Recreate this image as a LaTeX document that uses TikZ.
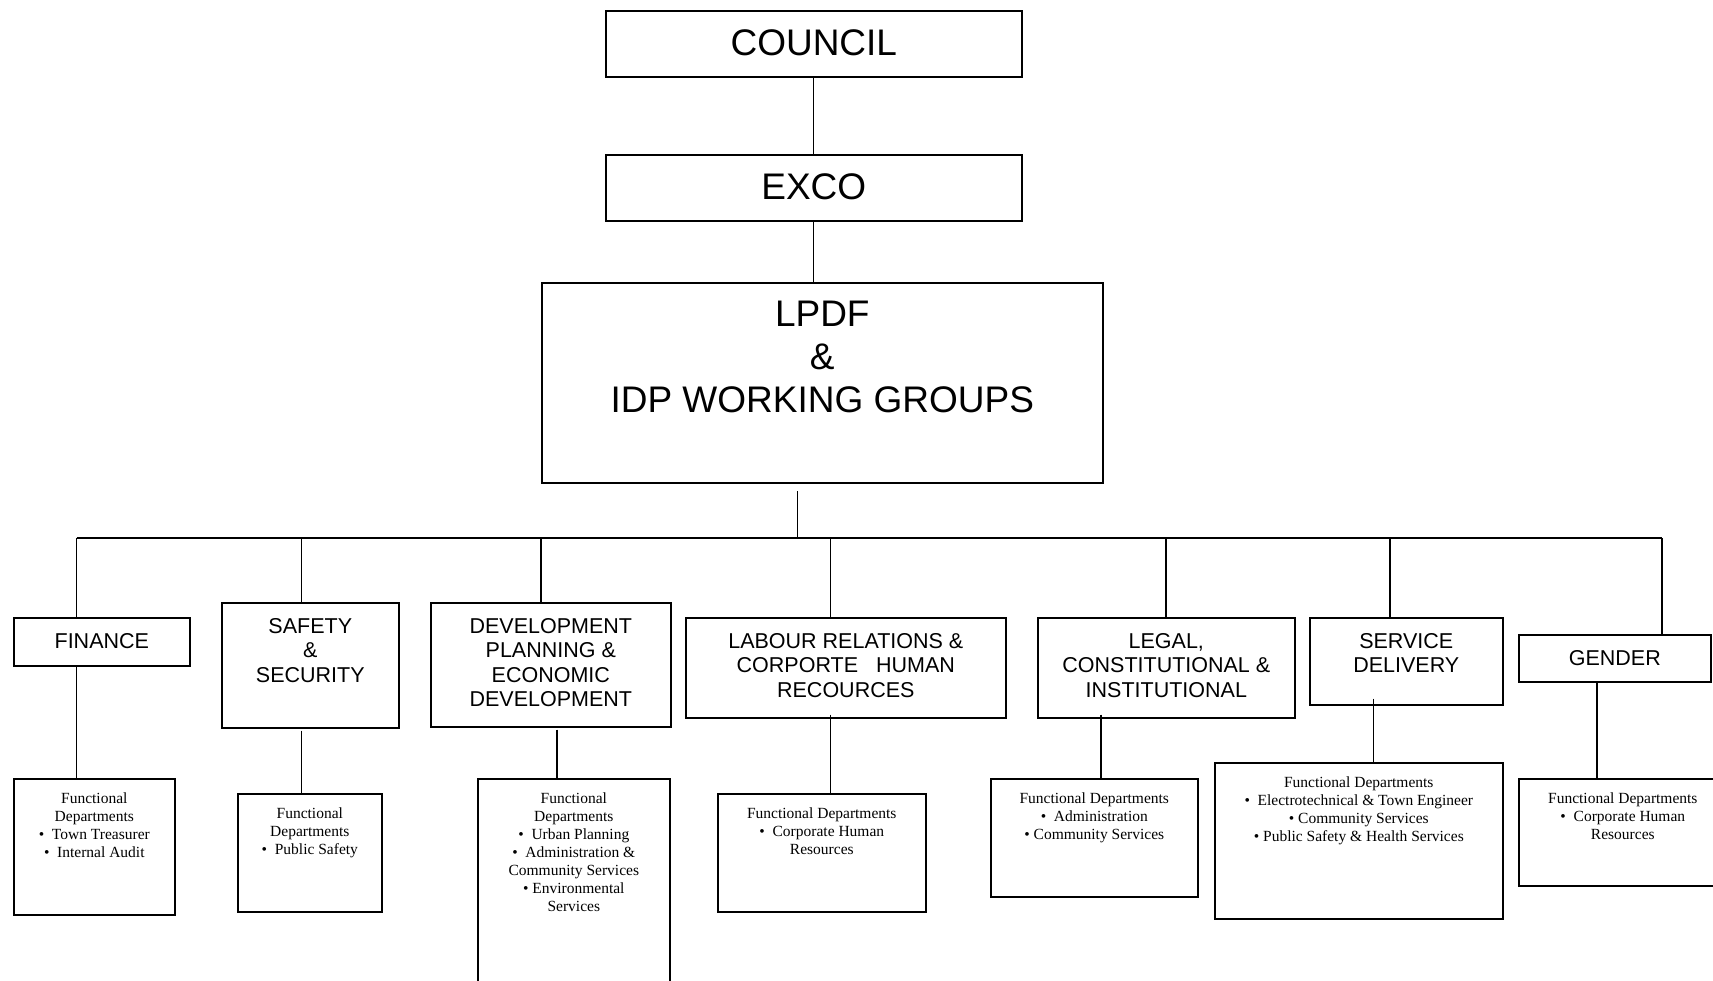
\documentclass[tikz,border=0pt]{standalone}
\usepackage{fontspec}
\setmainfont{Liberation Serif}
\setsansfont{Liberation Sans}

\tikzset{
 box/.style={draw, line width=1.6pt, inner sep=0pt, anchor=north west},
 bigtxt/.style={anchor=north, yshift=-19pt, inner sep=0pt, align=center, font=\sffamily\fontsize{37}{43}\selectfont},
 unittxt/.style={anchor=north, yshift=-16pt, inner sep=0pt, align=center, font=\sffamily\fontsize{21.5}{24.5}\selectfont},
 depttxt/.style={anchor=north, yshift=-15pt, inner sep=0pt, align=center, font=\rmfamily\fontsize{15.5}{18}\selectfont},
 link/.style={line width=1.3pt},
}

\begin{document}
\begin{tikzpicture}[x=1pt,y=-1pt]
 \useasboundingbox (0,0) rectangle (1713,980);
 % top of the chart
 \node[box, minimum width=416pt, minimum height=66pt, label={[bigtxt]north:COUNCIL}] (council) at (605,10) {};
 \node[box, minimum width=416pt, minimum height=66pt, label={[bigtxt]north:EXCO}] (exco) at (605,154) {};
 \node[box, minimum width=561pt, minimum height=200pt, label={[bigtxt]north:{LPDF\\\&\\IDP WORKING GROUPS}}] (lpdf) at (541,282) {};
 % working groups
 \node[box, minimum width=176pt, minimum height=48pt, label={[unittxt]north:FINANCE}] (fin) at (13,617) {};
 \node[box, minimum width=177pt, minimum height=125pt, label={[unittxt]north:{SAFETY\\\&\\SECURITY}}] (saf) at (221,602) {};
 \node[box, minimum width=240pt, minimum height=124pt, label={[unittxt]north:{DEVELOPMENT\\PLANNING \&\\ECONOMIC\\DEVELOPMENT}}] (dped) at (430,602) {};
 \node[box, minimum width=320pt, minimum height=100pt, label={[unittxt]north:{LABOUR RELATIONS \&\\CORPORTE \ \ HUMAN\\RECOURCES}}] (lab) at (685,617) {};
 \node[box, minimum width=257pt, minimum height=100pt, label={[unittxt]north:{LEGAL,\\CONSTITUTIONAL \&\\INSTITUTIONAL}}] (leg) at (1037,617) {};
 \node[box, minimum width=193pt, minimum height=87pt, label={[unittxt]north:{SERVICE\\DELIVERY}}] (svc) at (1309,617) {};
 \node[box, minimum width=192pt, minimum height=47pt, label={[unittxt]north:GENDER}] (gen) at (1518,634) {};
 % functional departments
 \node[box, minimum width=161pt, minimum height=136pt, label={[depttxt]north:{Functional\\Departments\\\textbullet\ \ Town Treasurer\\\textbullet\ \ Internal Audit}}] (ffin) at (13,778) {};
 \node[box, minimum width=144pt, minimum height=118pt, label={[depttxt]north:{Functional\\Departments\\\textbullet\ \ Public Safety}}] (fsaf) at (237,793) {};
 \node[box, minimum width=192pt, minimum height=230pt, label={[depttxt]north:{Functional\\Departments\\\textbullet\ \ Urban Planning\\\textbullet\ \ Administration \&\\Community Services\\\textbullet\ Environmental\\Services}}] (fdped) at (477,778) {};
 \node[box, minimum width=208pt, minimum height=118pt, label={[depttxt]north:{Functional Departments\\\textbullet\ \ Corporate Human\\Resources}}] (flab) at (717,793) {};
 \node[box, minimum width=207pt, minimum height=118pt, label={[depttxt]north:{Functional Departments\\\textbullet\ \ Administration\\\textbullet\ Community Services}}] (fleg) at (990,778) {};
 \node[box, minimum width=288pt, minimum height=156pt, label={[depttxt]north:{Functional Departments\\\textbullet\ \ Electrotechnical \& Town Engineer\\\textbullet\ Community Services\\\textbullet\ Public Safety \& Health Services}}] (fsvc) at (1214,762) {};
 \node[box, minimum width=208pt, minimum height=107pt, label={[depttxt]north:{Functional Departments\\\textbullet\ \ Corporate Human\\Resources}}] (fgen) at (1518,778) {};

 % connectors
 \draw[link] (council) -- (exco);
 \draw[link] (exco.south) -- (exco.south |- lpdf.north);
 \coordinate (hub) at (797.5,538);
 \draw[line width=1pt, shorten >=7pt] (hub) -- (hub |- lpdf.south);
 \coordinate (d1) at (76.5,538);
 \coordinate (d2) at (301.5,538);
 \coordinate (d3) at (541,538);
 \coordinate (d4) at (830.5,538);
 \coordinate (d5) at (1166,538);
 \coordinate (d6) at (1390,538);
 \coordinate (d7) at (1662,538);
 \draw[line width=1.7pt] (d1) -- (d7);
 \foreach \d/\n in {d1/fin, d2/saf, d3/dped, d4/lab, d5/leg, d6/svc, d7/gen}
   \draw[link] (\d) -- (\d |- \n.north);
 \coordinate (u1) at (76.5,778);
 \coordinate (u2) at (301.5,793);
 \coordinate (u3) at (557,778);
 \coordinate (u4) at (830.5,793);
 \coordinate (u5) at (1101,778);
 \coordinate (u6) at (1373.5,762);
 \coordinate (u7) at (1597,778);
 \foreach \u/\n/\s in {u1/fin/0, u2/saf/2, u3/dped/2, u4/lab/-4, u5/leg/-4, u6/svc/-7, u7/gen/0}
   \draw[link, shorten <=\s pt] (\n.south -| \u) -- (\u);
\end{tikzpicture}
\end{document}
